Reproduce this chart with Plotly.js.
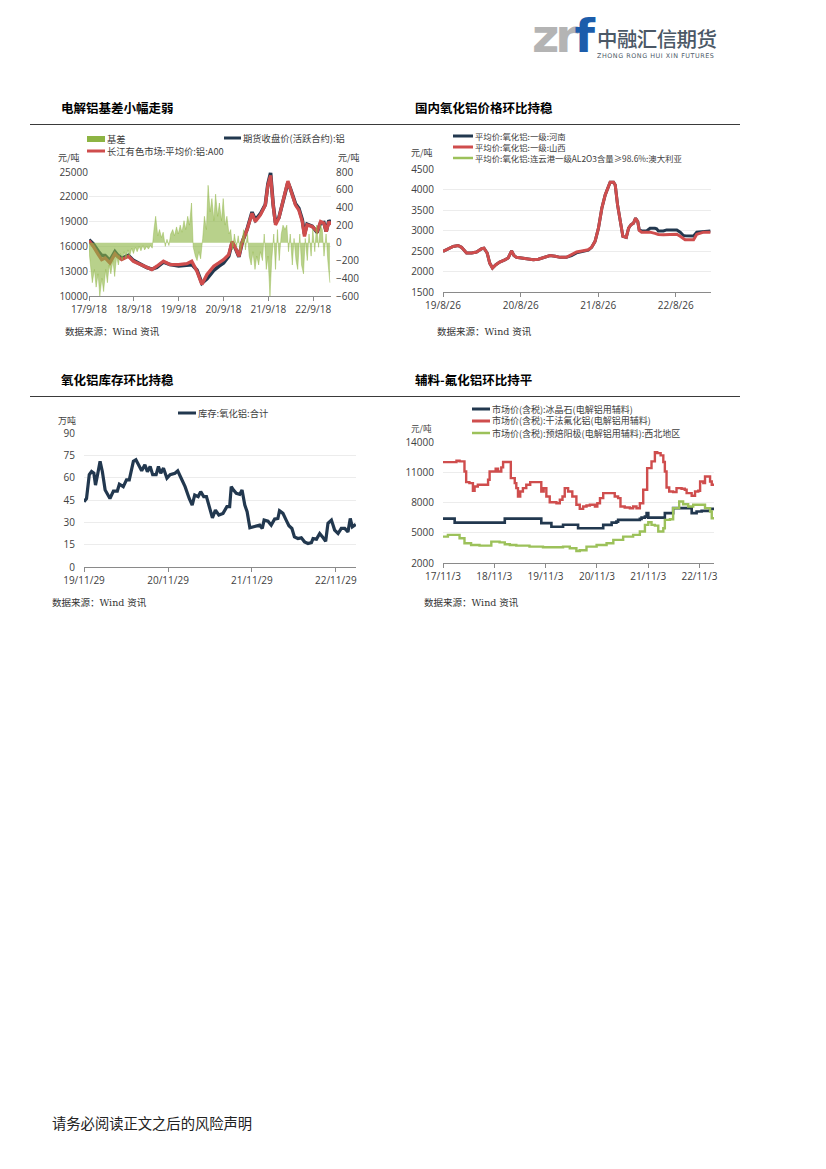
<!DOCTYPE html>
<html>
<head>
<meta charset="utf-8">
<script src="https://cdn.plot.ly/plotly-3.0.1.min.js"></script>
<style>
  html, body { margin:0; padding:0; background:#fff; }
  body { width:826px; height:1169px; position:relative; overflow:hidden; font-family:"Noto Sans CJK SC", sans-serif; }
  .abs { position:absolute; white-space:nowrap; }
  .sec { font-family:"Noto Sans CJK SC"; font-weight:700; font-size:12.5px; color:#000; line-height:16px; }
  .rule { position:absolute; height:0; border-top:1px solid #3a3a3a; }
  .src { font-family:"DejaVu Serif","Noto Sans CJK SC"; font-size:9.5px; color:#333; line-height:12px; }
  .plot { position:absolute; }
</style>
</head>
<body>

<!-- logo -->
<div class="abs" style="left:532px;top:9px;font-family:'DejaVu Sans';font-weight:bold;font-size:47px;line-height:54px;color:#b4b4b4;letter-spacing:-4px;">zr<span style="color:#1c5dab;letter-spacing:0">f</span></div>
<div class="abs" style="left:597px;top:26px;font-family:'Noto Sans CJK SC';font-weight:500;font-size:20.5px;line-height:24px;color:#4b5866;letter-spacing:-0.6px;">中融汇信期货</div>
<div class="abs" style="left:597px;top:52px;font-family:'DejaVu Sans';font-size:6.4px;line-height:8px;color:#4b5866;letter-spacing:0.55px;">ZHONG RONG HUI XIN FUTURES</div>

<!-- section titles -->
<div class="abs sec" style="left:61px;top:100px;">电解铝基差小幅走弱</div>
<div class="abs sec" style="left:415px;top:100px;">国内氧化铝价格环比持稳</div>
<div class="abs sec" style="left:61px;top:372px;">氧化铝库存环比持稳</div>
<div class="abs sec" style="left:415px;top:372px;">辅料-氟化铝环比持平</div>

<div class="rule" style="left:30px;top:124px;width:710px;"></div>
<div class="rule" style="left:30px;top:396px;width:710px;"></div>

<div id="c1" class="plot"></div>
<div id="c2" class="plot"></div>
<div id="c3" class="plot"></div>
<div id="c4" class="plot"></div>

<div class="abs src" style="left:65px;top:326px;">数据来源：Wind 资讯</div>
<div class="abs src" style="left:437px;top:326px;">数据来源：Wind 资讯</div>
<div class="abs src" style="left:52px;top:597px;">数据来源：Wind 资讯</div>
<div class="abs src" style="left:424px;top:597px;">数据来源：Wind 资讯</div>

<div class="abs" style="left:52px;top:1113px;font-family:'Noto Sans CJK SC';font-size:14.3px;line-height:20px;color:#222;">请务必阅读正文之后的风险声明</div>

<script>
// ================= DATA =================
// Chart 1: 电解铝基差
const c1Names = ['基差', '期货收盘价(活跃合约):铝', '长江有色市场:平均价:铝:A00'];
const c1Dates = ['2017-09-18','2017-10-23','2017-12-03','2017-12-30','2018-01-27','2018-03-07','2018-04-17','2018-05-06','2018-06-11','2018-08-05','2018-09-15','2018-11-08','2019-01-02','2019-02-12','2019-03-24','2019-05-17','2019-07-10','2019-09-18','2019-11-24','2020-01-03','2020-02-14','2020-03-25','2020-05-06','2020-06-30','2020-08-10','2020-09-18','2020-10-30','2020-11-27','2020-12-24','2021-01-21','2021-02-18','2021-03-28','2021-05-08','2021-06-04','2021-07-15','2021-08-24','2021-09-14','2021-10-06','2021-10-27','2021-11-15','2021-12-12','2022-01-21','2022-02-24','2022-03-17','2022-04-27','2022-05-24','2022-06-21','2022-07-09','2022-07-30','2022-09-10','2022-10-20','2022-11-17','2022-12-14','2023-01-02','2023-01-24','2023-02-08'];
const c1Spot = [16700,16000,15000,14400,14600,14000,15100,14800,14400,14800,14200,13800,13400,13200,13600,14200,13800,13800,13900,14200,13000,11400,12600,13600,14000,14400,15000,16600,15800,14800,16600,18000,20000,19000,19800,21000,23400,24600,21000,18600,19400,21800,23900,22900,21000,20400,19000,17200,18600,18400,17800,19000,18800,17800,19000,18600];
const c1Fut  = [16800,16300,15400,14900,14900,14300,15350,15000,14550,14900,14300,13850,13450,13250,13450,14100,13800,13650,13700,13800,13150,11550,12100,13100,13600,14000,14800,16500,15750,14750,16550,18050,20150,19200,19950,21050,23550,24900,21050,18850,19450,21650,23750,22950,21150,20600,19250,17500,18700,18450,17700,18850,18900,17800,19150,18900];
const c1BasisDates = ['2017-09-15','2017-10-01','2017-10-15','2017-11-01','2017-11-15','2017-12-01','2017-12-15','2018-01-01','2018-01-15','2018-02-01','2018-02-15','2018-03-01','2018-03-15','2018-04-01','2018-04-15','2018-05-01','2018-05-15','2018-06-01','2018-06-15','2018-07-01','2018-07-15','2018-08-01','2018-08-15','2018-09-01','2018-09-15','2018-10-01','2018-10-15','2018-11-01','2018-11-15','2018-12-01','2018-12-15','2019-01-01','2019-01-15','2019-02-01','2019-02-15','2019-03-01','2019-03-15','2019-04-01','2019-04-15','2019-05-01','2019-05-15','2019-06-01','2019-06-15','2019-07-01','2019-07-15','2019-08-01','2019-08-15','2019-09-01','2019-09-15','2019-10-01','2019-10-15','2019-11-01','2019-11-15','2019-12-01','2019-12-15','2020-01-01','2020-01-15','2020-02-01','2020-02-15','2020-03-01','2020-03-15','2020-04-01','2020-04-15','2020-05-01','2020-05-15','2020-06-01','2020-06-15','2020-07-01','2020-07-15','2020-08-01','2020-08-15','2020-09-01','2020-09-15','2020-10-01','2020-10-15','2020-11-01','2020-11-15','2020-12-01','2020-12-15','2021-01-01','2021-01-15','2021-02-01','2021-02-15','2021-03-01','2021-03-15','2021-04-01','2021-04-15','2021-05-01','2021-05-15','2021-06-01','2021-06-15','2021-07-01','2021-07-15','2021-08-01','2021-08-15','2021-09-01','2021-09-15','2021-10-01','2021-10-15','2021-11-01','2021-11-15','2021-12-01','2021-12-15','2022-01-01','2022-01-15','2022-02-01','2022-02-15','2022-03-01','2022-03-15','2022-04-01','2022-04-15','2022-05-01','2022-05-15','2022-06-01','2022-06-15','2022-07-01','2022-07-15','2022-08-01','2022-08-15','2022-09-01','2022-09-15','2022-10-01','2022-10-15','2022-11-01','2022-11-15','2022-12-01','2022-12-15','2023-01-01','2023-01-15','2023-02-01'];
const c1Basis = [-50,-250,-450,-300,-500,-350,-600,-400,-550,-300,-450,-250,-350,-200,-380,-150,-250,-120,-200,-100,-180,-80,-150,-60,-120,-50,-100,-40,-90,-30,-80,-40,-70,-30,-60,150,300,80,150,60,120,-40,40,-30,100,150,80,180,100,200,120,250,150,300,200,450,-50,-150,-200,-100,-180,50,300,150,650,350,500,250,550,300,450,250,500,200,300,100,150,-80,100,-50,80,-100,50,150,-80,100,-150,-250,-100,-300,-150,-250,-100,-200,100,-300,-150,-600,-200,100,-300,150,-200,100,200,150,200,-100,100,-250,50,-200,-300,100,-250,-350,50,-200,100,-150,150,-100,200,-50,200,150,-150,100,-200,-450];
const c1TickVals = ['2017-09-18','2018-09-18','2019-09-18','2020-09-18','2021-09-18','2022-09-18'];
const c1TickText = ['17/9/18','18/9/18','19/9/18','20/9/18','21/9/18','22/9/18'];

// Chart 2: 氧化铝价格
const c2Names = ['平均价:氧化铝:一级:河南', '平均价:氧化铝:一级:山西', '平均价:氧化铝:连云港一级AL2O3含量≥98.6%:澳大利亚'];
const c2Dates = ['2019-08-26','2019-09-19','2019-10-13','2019-11-05','2019-11-21','2019-12-15','2020-01-08','2020-01-31','2020-02-24','2020-03-06','2020-03-21','2020-04-02','2020-04-15','2020-05-01','2020-05-19','2020-06-12','2020-06-28','2020-07-14','2020-07-25','2020-08-06','2020-08-30','2020-09-23','2020-10-24','2020-11-17','2020-12-10','2021-01-11','2021-02-04','2021-02-28','2021-03-29','2021-04-22','2021-05-16','2021-06-16','2021-07-10','2021-07-26','2021-08-11','2021-08-27','2021-09-12','2021-09-28','2021-10-13','2021-10-21','2021-11-06','2021-11-14','2021-11-25','2021-12-07','2021-12-20','2022-01-05','2022-01-16','2022-01-27','2022-02-08','2022-02-18','2022-02-28','2022-03-07','2022-03-18','2022-04-11','2022-04-27','2022-05-20','2022-05-28','2022-06-05','2022-06-29','2022-07-14','2022-08-31','2022-09-16','2022-09-23','2022-10-01','2022-10-09','2022-11-18','2022-12-03','2023-01-04','2023-02-05'];
const c2Henan  = [2490,2555,2610,2635,2590,2450,2450,2475,2555,2570,2450,2205,2085,2165,2230,2285,2330,2505,2390,2345,2330,2310,2285,2300,2345,2390,2370,2345,2345,2390,2455,2490,2520,2590,2735,3055,3545,3870,4045,4175,4175,4110,3625,3220,2855,2830,3055,3140,3180,3300,3220,3015,2990,2990,3055,3055,3040,2990,2990,3015,3015,2960,2920,2880,2870,2865,2960,2975,2990];
const c2Shanxi = [2490,2555,2610,2635,2590,2450,2450,2475,2555,2570,2450,2205,2085,2165,2230,2285,2330,2505,2390,2345,2330,2310,2285,2300,2345,2390,2370,2345,2345,2410,2475,2505,2530,2590,2735,3055,3545,3870,4045,4175,4175,4110,3625,3220,2855,2830,3055,3140,3180,3300,3220,3000,2960,2960,2960,2930,2910,2905,2895,2900,2910,2860,2830,2800,2775,2775,2910,2960,2960];
const c2Australia = [null];
const c2TickVals = ['2019-08-26','2020-08-26','2021-08-26','2022-08-26'];
const c2TickText = ['19/8/26','20/8/26','21/8/26','22/8/26'];

// Chart 3: 氧化铝库存
const c3Names = ['库存:氧化铝:合计'];
const c3Dates = ['2019-11-29','2019-12-10','2019-12-22','2020-01-01','2020-01-11','2020-01-18','2020-01-27','2020-02-07','2020-02-17','2020-02-29','2020-03-21','2020-04-05','2020-04-22','2020-05-01','2020-05-18','2020-06-01','2020-06-13','2020-06-19','2020-07-01','2020-07-12','2020-07-22','2020-08-06','2020-08-20','2020-08-31','2020-09-12','2020-09-23','2020-10-08','2020-10-18','2020-10-28','2020-11-09','2020-11-24','2020-12-08','2020-12-29','2021-01-10','2021-01-25','2021-02-11','2021-03-01','2021-03-14','2021-03-25','2021-04-09','2021-04-20','2021-05-03','2021-05-15','2021-05-29','2021-06-10','2021-06-23','2021-07-08','2021-07-26','2021-08-12','2021-08-24','2021-08-31','2021-09-10','2021-09-22','2021-10-07','2021-10-17','2021-10-29','2021-11-08','2021-11-20','2021-12-11','2022-01-02','2022-01-13','2022-01-21','2022-02-07','2022-02-21','2022-03-08','2022-03-22','2022-03-29','2022-04-13','2022-04-27','2022-05-09','2022-05-22','2022-06-02','2022-06-17','2022-07-02','2022-07-16','2022-07-31','2022-08-15','2022-08-22','2022-09-06','2022-09-20','2022-10-05','2022-10-16','2022-10-26','2022-11-10','2022-11-24','2022-12-09','2022-12-23','2023-01-07','2023-01-21','2023-01-31','2023-02-09','2023-02-24'];
const c3Stock = [43.9,46,62,64.1,63,55,62,71,64,51.7,46,51,51,55.6,54,58.5,58.5,62,71,72,68.6,64.6,68.6,64,67.5,62,62,67.5,63,66.4,59.6,62,63,64.6,59.6,54,46,41.6,48.4,47.3,50.6,47.3,47.3,39.4,33,38.2,34.9,36,40.5,40.5,54,51.7,49.5,48.8,51.7,41.6,37.1,26.3,27,28.1,25.9,31.5,30.8,28.1,32.2,32.6,37.8,36,31.5,27.7,25.9,20.2,19.1,19.6,16.9,15.8,16.4,19.1,18.7,22.5,19.6,17.3,29.3,31.5,24.8,22.5,25.9,25.9,23.6,32.6,27,28.6];
const c3TickVals = ['2019-11-29','2020-11-29','2021-11-29','2022-11-29'];
const c3TickText = ['19/11/29','20/11/29','21/11/29','22/11/29'];

// Chart 4: 辅料
const c4Names = ['市场价(含税):冰晶石(电解铝用辅料)', '市场价(含税):干法氟化铝(电解铝用辅料)', '市场价(含税):预焙阳极(电解铝用辅料):西北地区'];
const c4CryoDates = ['2017-11-03','2018-01-25','2019-01-17','2019-10-04','2019-12-15','2020-03-07','2020-06-22','2020-12-18','2021-02-16','2021-03-22','2021-04-03','2021-09-05','2021-09-17','2021-10-11','2021-10-23','2021-11-04','2022-03-02','2022-04-30','2022-09-09','2022-10-14','2022-11-19','2023-01-18','2023-02-16'];
const c4Cryo = [6400,6000,6400,5950,5600,5800,5450,5780,6000,6100,6280,6380,6500,6600,6950,6500,6950,7440,6950,7100,7170,7370,7500];
const c4AlfDates = ['2017-11-03','2018-01-25','2018-02-07','2018-03-01','2018-03-24','2018-04-05','2018-04-17','2018-05-10','2018-06-04','2018-06-16','2018-07-09','2018-09-08','2018-09-20','2018-10-01','2018-10-25','2018-11-13','2018-11-30','2018-12-23','2019-01-05','2019-02-22','2019-03-01','2019-03-29','2019-04-09','2019-04-21','2019-05-07','2019-05-26','2019-06-19','2019-07-17','2019-09-23','2019-10-04','2019-10-21','2019-11-09','2019-12-03','2020-01-20','2020-02-13','2020-03-03','2020-03-19','2020-04-12','2020-05-12','2020-06-10','2020-07-04','2020-07-28','2020-08-21','2020-09-14','2020-10-08','2020-10-20','2020-11-06','2020-11-25','2020-12-18','2021-02-04','2021-03-10','2021-04-03','2021-04-20','2021-05-20','2021-06-26','2021-07-19','2021-08-12','2021-09-05','2021-09-29','2021-10-27','2021-11-27','2021-12-21','2022-01-07','2022-01-31','2022-02-19','2022-03-02','2022-03-14','2022-04-02','2022-04-30','2022-05-24','2022-06-29','2022-07-22','2022-08-04','2022-09-09','2022-10-03','2022-10-26','2022-11-08','2022-12-01','2022-12-13','2023-01-06','2023-01-18','2023-01-30','2023-02-16'];
const c4Alf = [12000,12000,12140,12080,12080,11080,10020,9920,9160,9590,9760,9760,10250,11080,11080,11350,11080,11480,12010,12010,10420,9920,9430,8600,9090,9430,9760,10020,10020,9090,9430,8600,8030,7930,8270,8600,9430,9090,8600,7770,7370,7600,7700,7770,7770,7600,7930,8430,8930,8930,8600,8430,7600,7500,7430,7600,7430,7930,9260,11410,12080,13000,12900,12670,12010,11080,9490,9090,9030,9430,9360,9260,8930,8670,9090,9160,10090,9920,10580,10580,10090,9760,9690];
const c4AnodeDates = ['2017-11-03','2017-12-08','2018-03-01','2018-04-05','2018-05-22','2018-07-21','2018-10-13','2018-12-11','2019-01-17','2019-02-22','2019-04-09','2019-07-12','2019-10-16','2020-03-07','2020-04-24','2020-06-10','2020-07-04','2020-08-21','2020-11-01','2021-01-11','2021-02-28','2021-05-09','2021-07-19','2021-09-05','2021-10-11','2021-11-04','2021-11-27','2021-12-21','2022-01-14','2022-02-19','2022-03-02','2022-04-07','2022-04-30','2022-06-12','2022-07-10','2022-08-15','2022-09-20','2022-12-13','2023-01-18','2023-01-30','2023-02-16'];
const c4Anode = [4620,4790,4450,3960,3790,3720,4120,4050,3860,3790,3720,3620,3560,3620,3460,3190,3260,3620,3790,3960,4290,4620,4790,5120,5780,6040,5780,5710,5120,5450,6280,6340,7440,8100,7830,7600,7770,7440,7100,6440,6440];
const c4TickVals = ['2017-11-03','2018-11-03','2019-11-03','2020-11-03','2021-11-03','2022-11-03'];
const c4TickText = ['17/11/3','18/11/3','19/11/3','20/11/3','21/11/3','22/11/3'];

// ================= STYLE =================
const NAVY = '#22384f', RED = '#cf4d4d', GREEN = '#8db443', GREEN2 = '#9cc15a', TXT = '#404040';
const FONT = 'Open Sans, Noto Sans CJK SC, sans-serif';
const CJK = 'Noto Sans CJK SC, sans-serif';

function build(id, g, traces, xaxis, yaxis, yaxis2, legend, units) {
  const el = document.getElementById(id);
  el.style.left = g.left + 'px'; el.style.top = g.top + 'px';
  el.style.width = g.w + 'px'; el.style.height = g.h + 'px';
  const m = { l: g.pl - g.left, r: g.left + g.w - g.pr, t: g.pt - g.top, b: g.top + g.h - g.pb, pad: 0 };
  const xp = X => (X - g.pl) / (g.pr - g.pl);
  const yp = Y => (g.pb - Y) / (g.pb - g.pt);
  const shapes = [], ann = [];
  legend.forEach(it => {
    if (it.kind === 'box') {
      shapes.push({type:'rect', xref:'paper', yref:'paper', x0:xp(it.x0), x1:xp(it.x1), y0:yp(it.y+3), y1:yp(it.y-3), fillcolor:it.color, line:{width:0}});
    } else {
      shapes.push({type:'line', xref:'paper', yref:'paper', x0:xp(it.x0), x1:xp(it.x1), y0:yp(it.y), y1:yp(it.y), line:{color:it.color, width:it.w || 3}});
    }
    ann.push({xref:'paper', yref:'paper', x:xp(it.tx), y:yp(it.y), xanchor:'left', yanchor:'middle', showarrow:false, text:it.text,
      font:{family:CJK, size:it.fs || 9.3, color:TXT}, borderpad:0});
  });
  units.forEach(u => ann.push({xref:'paper', yref:'paper', x:xp(u.x), y:yp(u.y), xanchor:u.anchor || 'left', yanchor:'middle', showarrow:false, text:u.text,
      font:{family:CJK, size:u.fs || 9, color:TXT}, borderpad:0}));
  const layout = {
    width:g.w, height:g.h, margin:m, showlegend:false,
    paper_bgcolor:'rgba(0,0,0,0)', plot_bgcolor:'rgba(0,0,0,0)',
    font:{family:FONT, size:10, color:TXT},
    xaxis: Object.assign({type:'date', showgrid:false, zeroline:false, showline:true, linecolor:'#8a8a8a', linewidth:1,
      ticks:'outside', ticklen:4, tickcolor:'#8a8a8a', tickmode:'array', tickfont:{family:FONT, size:10, color:TXT}}, xaxis),
    yaxis: Object.assign({showgrid:true, gridcolor:'#ececec', gridwidth:1, zeroline:false, showline:false, ticks:'', tickformat:'d',
      tickfont:{family:FONT, size:10, color:TXT}}, yaxis),
    shapes:shapes, annotations:ann
  };
  if (yaxis2) layout.yaxis2 = Object.assign({overlaying:'y', side:'right', showgrid:false, zeroline:false, showline:false, ticks:'', tickformat:'d',
      tickfont:{family:FONT, size:10, color:TXT}}, yaxis2);
  Plotly.newPlot(el, traces, layout, {staticPlot:true, displayModeBar:false});
}

// Chart 1
build('c1', {left:30, top:128, w:350, h:200, pl:89, pr:331, pt:172, pb:296}, [
  {type:'scatter', mode:'lines', x:c1BasisDates, y:c1Basis, yaxis:'y2', name:c1Names[0], fill:'tozeroy',
    line:{color:'rgba(141,180,67,0.85)', width:0.5}, fillcolor:'rgba(141,180,67,0.62)'},
  {type:'scatter', mode:'lines', x:c1Dates, y:c1Fut, name:c1Names[1], line:{color:NAVY, width:3.6}},
  {type:'scatter', mode:'lines', x:c1Dates, y:c1Spot, name:c1Names[2], line:{color:RED, width:3.3}}
], {range:['2017-09-18','2023-02-10'], tickvals:c1TickVals, ticktext:c1TickText},
   {range:[10000,25000], tickmode:'linear', tick0:10000, dtick:3000, ticklabelstandoff:0},
   {range:[-600,800], tickmode:'linear', tick0:-600, dtick:200, ticklabelstandoff:4},
[
  {kind:'box', x0:87, x1:105, y:139, color:GREEN, tx:106, text:c1Names[0]},
  {kind:'line', x0:224, x1:241, y:138, color:NAVY, tx:242, text:c1Names[1]},
  {kind:'line', x0:87, x1:105, y:151, color:RED, tx:106, text:c1Names[2]}
], [{x:57, y:157, text:'元/吨'}, {x:337, y:157, text:'元/吨'}]);

// Chart 2
build('c2', {left:405, top:128, w:335, h:200, pl:443, pr:711, pt:169, pb:292}, [
  {type:'scatter', mode:'lines', x:c2Dates, y:c2Henan, name:c2Names[0], line:{color:NAVY, width:3}},
  {type:'scatter', mode:'lines', x:c2Dates, y:c2Shanxi, name:c2Names[1], line:{color:RED, width:3}},
  {type:'scatter', mode:'lines', x:c2Australia, y:c2Australia, name:c2Names[2], line:{color:GREEN2, width:2}}
], {range:['2019-08-26','2023-02-08'], tickvals:c2TickVals, ticktext:c2TickText},
   {range:[1500,4500], tickmode:'linear', tick0:1500, dtick:500, ticklabelstandoff:8}, null,
[
  {kind:'line', x0:453, x1:473, y:136, color:NAVY, tx:474, text:c2Names[0], fs:8.4},
  {kind:'line', x0:453, x1:473, y:147, color:RED, tx:474, text:c2Names[1], fs:8.4},
  {kind:'line', x0:453, x1:473, y:158, color:GREEN2, w:2.5, tx:474, text:c2Names[2], fs:8.4}
], [{x:410, y:152, text:'元/吨'}]);

// Chart 3
build('c3', {left:30, top:398, w:350, h:200, pl:84, pr:356, pt:433, pb:567}, [
  {type:'scatter', mode:'lines', x:c3Dates, y:c3Stock, name:c3Names[0], line:{color:NAVY, width:3.2}}
], {range:['2019-11-29','2023-02-25'], tickvals:c3TickVals, ticktext:c3TickText},
   {range:[0,90], tickmode:'linear', tick0:0, dtick:15, ticklabelstandoff:8}, null,
[
  {kind:'line', x0:178, x1:196, y:413, color:NAVY, tx:197, text:c3Names[0]}
], [{x:57, y:421, text:'万吨'}]);

// Chart 4
build('c4', {left:400, top:398, w:340, h:200, pl:443, pr:714, pt:442, pb:563}, [
  {type:'scatter', mode:'lines', x:c4CryoDates, y:c4Cryo, name:c4Names[0], line:{color:NAVY, width:2.6, shape:'hv'}},
  {type:'scatter', mode:'lines', x:c4AlfDates, y:c4Alf, name:c4Names[1], line:{color:RED, width:2.4, shape:'hv'}},
  {type:'scatter', mode:'lines', x:c4AnodeDates, y:c4Anode, name:c4Names[2], line:{color:GREEN2, width:2.4, shape:'hv'}}
], {range:['2017-11-03','2023-02-15'], tickvals:c4TickVals, ticktext:c4TickText},
   {range:[2000,14000], tickmode:'linear', tick0:2000, dtick:3000, ticklabelstandoff:8}, null,
[
  {kind:'line', x0:472, x1:490, y:409, color:NAVY, tx:491, text:c4Names[0], fs:9},
  {kind:'line', x0:472, x1:490, y:421, color:RED, tx:491, text:c4Names[1], fs:9},
  {kind:'line', x0:472, x1:490, y:433, color:GREEN2, w:2.5, tx:491, text:c4Names[2], fs:9}
], [{x:410, y:428, text:'元/吨', fs:8.6}]);
</script>
</body>
</html>
